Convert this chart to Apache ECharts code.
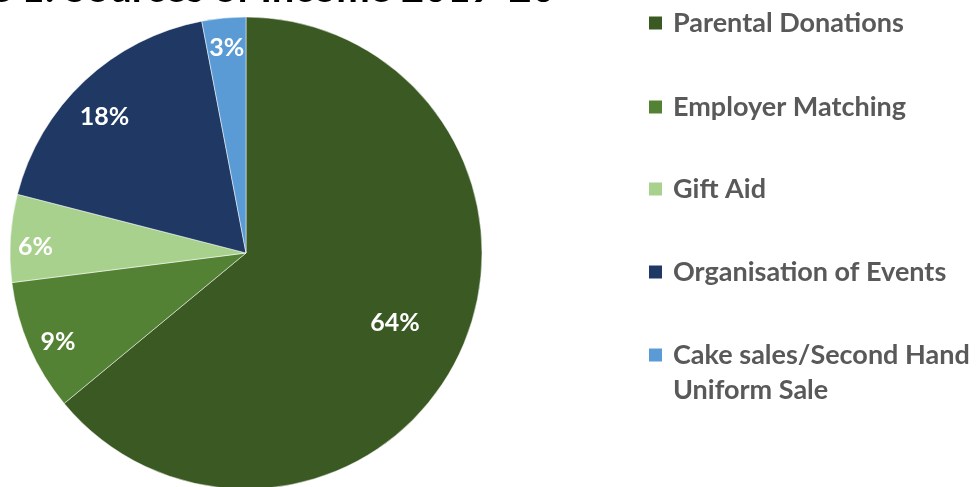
<!DOCTYPE html>
<html>
<head>
<meta charset="utf-8">
<script src="https://cdn.jsdelivr.net/npm/echarts@6/dist/echarts.min.js"></script>
<style>html,body{margin:0;padding:0;background:#fff;}#c{width:980px;height:487px;}</style>
</head>
<body>
<div id="c"></div>
<script>
const categories = ['Parental Donations', 'Employer Matching', 'Gift Aid', 'Organisation of Events', 'Cake sales/Second Hand Uniform Sale'];
const values = [64, 9, 6, 18, 3];
const colors = ['#3B5A23', '#548235', '#A9D18E', '#1F3864', '#5B9BD5'];
const titleText = 'Figure 1: Sources of Income 2019-20';

const chart = echarts.init(document.getElementById('c'), null, {renderer: 'canvas'});
const CX = 246, CY = 253;
const labelScale = [1.36, 1.72, 1.74, 1.62, 1.70];
const labelRotate = [0, -2, -2, -3, 0];
const FONT = 'Lato, "Open Sans", sans-serif';
const legendCenters = [23, 107, 189, 272, 355];
const LH = 35;
const legends = categories.map(function (n, i) {
  const multi = n.indexOf('Hand ') >= 0;
  return {
    orient: 'vertical',
    left: 647,
    top: legendCenters[i] - (multi ? LH * 1.5 : LH / 2),
    padding: 0,
    itemWidth: 15,
    itemHeight: 15,
    itemGap: 10,
    icon: 'rect',
    data: [n],
    formatter: function (s) { return multi ? '\n' + s.replace('Hand ', 'Hand\n') : s; },
    textStyle: {fontFamily: FONT, fontWeight: 'bold', fontSize: 27, color: '#595959', lineHeight: LH,
      padding: [0, 0, 0, 5]}
  };
});
chart.setOption({
  animation: false,
  backgroundColor: '#fff',
  color: colors,
  title: {
    text: titleText,
    right: 420,
    top: -36,
    textStyle: {fontFamily: FONT, fontWeight: 'bold', fontSize: 40, color: '#000'}
  },
  legend: legends,
  series: [{
    type: 'pie',
    center: [CX, CY],
    radius: 236,
    startAngle: 90,
    clockwise: true,
    avoidLabelOverlap: false,
    itemStyle: {borderColor: '#ffffff', borderWidth: 0.5},
    label: {
      show: true,
      position: 'inside',
      formatter: '{c}%',
      color: '#fff',
      fontFamily: FONT,
      fontWeight: 'bold',
      fontSize: 25
    },
    labelLine: {show: false},
    labelLayout: function (p) {
      const r = p.labelRect;
      const vx = r.x + r.width / 2 - CX, vy = r.y + r.height / 2 - CY;
      const k = labelScale[p.dataIndex];
      const a = labelRotate[p.dataIndex] * Math.PI / 180;
      const rx = vx * Math.cos(a) - vy * Math.sin(a);
      const ry = vx * Math.sin(a) + vy * Math.cos(a);
      return {x: CX + rx * k, y: CY + ry * k};
    },
    data: categories.map((n, i) => ({name: n, value: values[i]}))
  }]
});
</script>
</body>
</html>
